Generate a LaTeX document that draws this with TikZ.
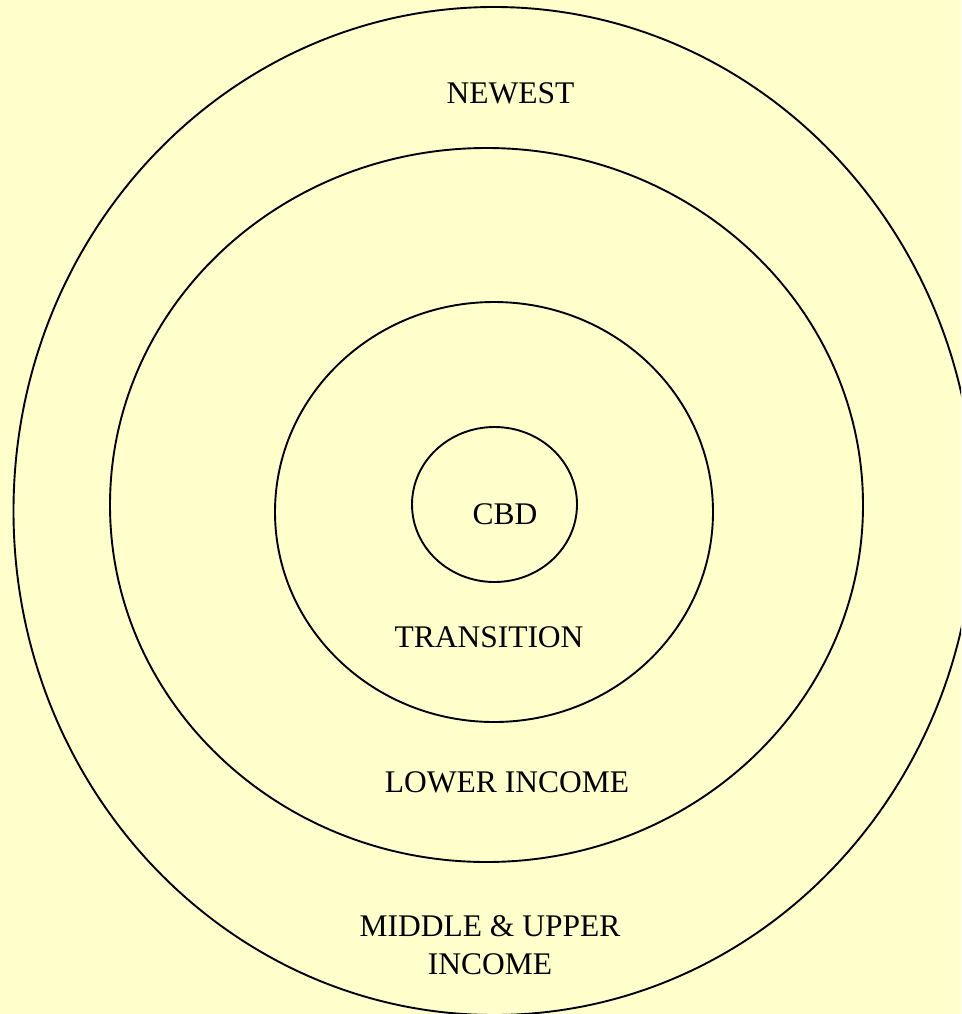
\documentclass[tikz,border=0pt]{standalone}
\usepackage{fontspec}
\setmainfont{Liberation Serif}
\begin{document}
\begin{tikzpicture}[x=1pt,y=-1pt,
  ring/.style={draw=black,line width=1.9pt},
  lbl/.style={font=\fontsize{31.5}{38}\selectfont,align=center,inner sep=0pt}]
\fill[fill={rgb,255:red,255;green,255;blue,204}] (0,0) rectangle (961,1014);
\useasboundingbox (0,0) rectangle (961,1014);
\begin{scope}
\clip (0,0) rectangle (961,1014);
\draw[ring] (494,511) ellipse [x radius=480.5, y radius=504];
\draw[ring] (486.5,505) ellipse [x radius=376.5, y radius=357];
\draw[ring] (494,512) ellipse [x radius=219, y radius=210];
\draw[ring] (494.5,504.5) ellipse [x radius=82.5, y radius=77.5];
\end{scope}
\node[lbl] (newest) at (510.5,93) {NEWEST};
\node[lbl] (cbd) at (505,514) {CBD};
\node[lbl] (trans) at (489,637) {TRANSITION};
\node[lbl] (lower) at (507,782) {LOWER INCOME};
\node[lbl] (middle) at (490,945) {MIDDLE \& UPPER\\INCOME};
\end{tikzpicture}
\end{document}
